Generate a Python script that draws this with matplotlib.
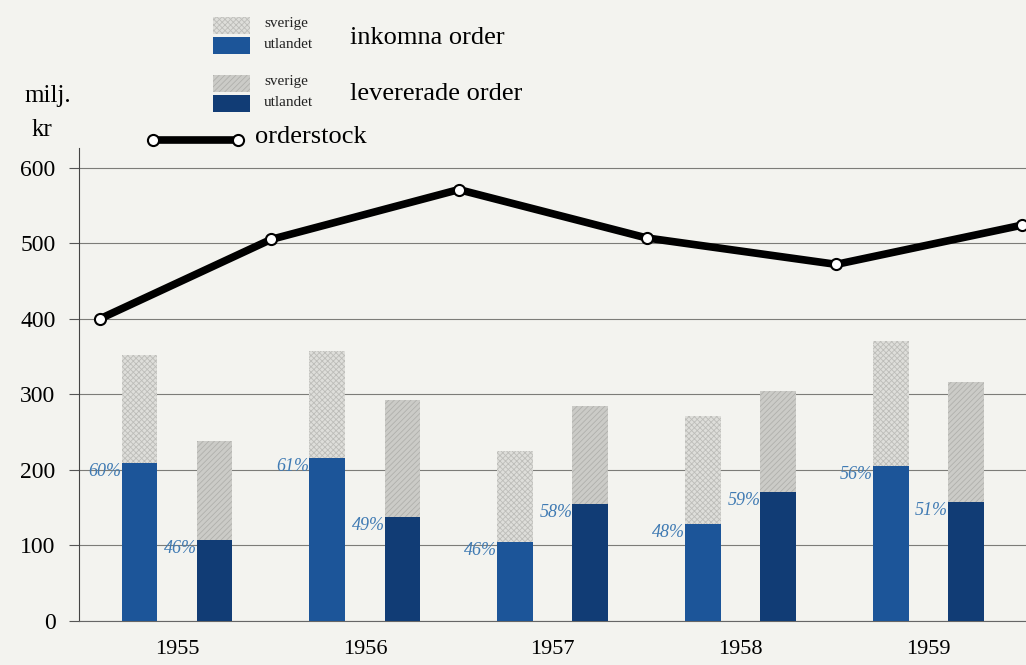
import matplotlib.pyplot as plt
import numpy as np
from matplotlib.patches import Rectangle
from matplotlib.lines import Line2D

# values (milj. kr)
years = ["1955", "1956", "1957", "1958", "1959"]
inkomna_total = [352, 358, 225, 271, 371]
inkomna_utland = [209, 216, 104, 128, 205]
inkomna_pct = ["60%", "61%", "46%", "48%", "56%"]
levererade_total = [238, 293, 285, 304, 316]
levererade_utland = [107, 137, 155, 171, 157]
levererade_pct = ["46%", "49%", "58%", "59%", "51%"]
# orderstock, points placed at the turn of each year
orderstock_x = [-0.21, 0.70, 1.70, 2.70, 3.71, 4.70]
orderstock = [400, 505, 571, 507, 472, 524]

bg = "#f3f3ef"
blue_ink = "#1c5599"
blue_lev = "#113c75"
gray_ink = "#dededa"
gray_lev = "#cbcbc7"
pct_color = "#3f7ab3"
font = "Liberation Serif"

plt.rcParams["font.family"] = font
plt.rcParams["hatch.linewidth"] = 0.6

fig = plt.figure(figsize=(10.26, 6.65), dpi=100, facecolor=bg)
ax = fig.add_axes([0.077, 0.0662, 0.923, 0.7112], facecolor=bg)

x = np.arange(len(years))
w = 0.19
off = 0.4

ax.bar(x, inkomna_total, w, color=gray_ink, hatch="xxxxxx", edgecolor="#bdbdb9", linewidth=0, zorder=2)
ax.bar(x, inkomna_utland, w, color=blue_ink, linewidth=0, zorder=3)
ax.bar(x + off, levererade_total, w, color=gray_lev, hatch="//////", edgecolor="#b0b0ac", linewidth=0, zorder=2)
ax.bar(x + off, levererade_utland, w, color=blue_lev, linewidth=0, zorder=3)

for i in range(len(years)):
    ax.text(x[i] - w / 2, inkomna_utland[i], inkomna_pct[i], ha="right", va="top",
            color=pct_color, fontsize=13, style="italic", zorder=4)
    ax.text(x[i] + off - w / 2, levererade_utland[i], levererade_pct[i], ha="right", va="top",
            color=pct_color, fontsize=13, style="italic", zorder=4)

ax.plot(orderstock_x, orderstock, color="black", lw=5.5, solid_capstyle="round",
        solid_joinstyle="round", zorder=5)
ax.plot(orderstock_x, orderstock, "o", ms=8, mfc="white", mec="black", mew=1.5, zorder=6)

ax.set_xlim(-0.322, 4.72)
ax.set_ylim(0, 626)
ax.set_yticks([0, 100, 200, 300, 400, 500, 600])
ax.set_yticklabels(["0", "100", "200", "300", "400", "500", "600"], fontsize=17)
ax.set_xticks(x + off / 2)
ax.set_xticklabels(years, fontsize=16)
ax.tick_params(axis="x", length=0, pad=14)
ax.tick_params(axis="y", length=7, width=0.8, color="#555555", pad=10)
ax.grid(axis="y", color="#7c7c78", lw=0.8, zorder=1)
for s in ["top", "right"]:
    ax.spines[s].set_visible(False)
ax.spines["left"].set_color("#444444")
ax.spines["left"].set_linewidth(0.8)
ax.spines["bottom"].set_color("#666666")
ax.spines["bottom"].set_linewidth(0.8)


# legend drawn by hand, in pixel units of the figure
def px(xp, yp):
    return xp / 1026, 1 - yp / 665


def swatch(x0, y0, y1, color, hatch=None, ec="none"):
    fx, fy = px(x0, y1)
    fw = 37 / 1026
    fh = (y1 - y0) / 665
    fig.patches.append(Rectangle((fx, fy), fw, fh, transform=fig.transFigure,
                                 facecolor=color, hatch=hatch, edgecolor=ec, lw=0))


swatch(213, 17, 34, gray_ink, "xxxxxx", "#bdbdb9")
swatch(213, 37, 54, blue_ink)
swatch(213, 75, 92, gray_lev, "//////", "#b0b0ac")
swatch(213, 95, 112, blue_lev)

for yp, label in [(24, "sverige"), (45, "utlandet"), (82, "sverige"), (103, "utlandet")]:
    fig.text(*px(264, yp), label, fontsize=11, va="center", ha="left", color="#222222")
fig.text(*px(350, 38), "inkomna order", fontsize=19, va="center", ha="left")
fig.text(*px(350, 94), "levererade order", fontsize=19, va="center", ha="left")

lx0, ly0 = px(153, 140)
lx1, ly1 = px(238, 140)
fig.lines.append(Line2D([lx0, lx1], [ly0, ly1], transform=fig.transFigure, color="black", lw=5.5, zorder=5))
fig.lines.append(Line2D([lx0, lx1], [ly0, ly1], transform=fig.transFigure, ls="none", marker="o",
                        ms=8, mfc="white", mec="black", mew=1.5, zorder=6))
fig.text(*px(255, 137), "orderstock", fontsize=19, va="center", ha="left")

fig.text(*px(48, 96), "milj.", fontsize=18, va="center", ha="center")
fig.text(*px(42, 130), "kr", fontsize=18, va="center", ha="center")

plt.savefig("out.png", dpi=100, facecolor=bg)
